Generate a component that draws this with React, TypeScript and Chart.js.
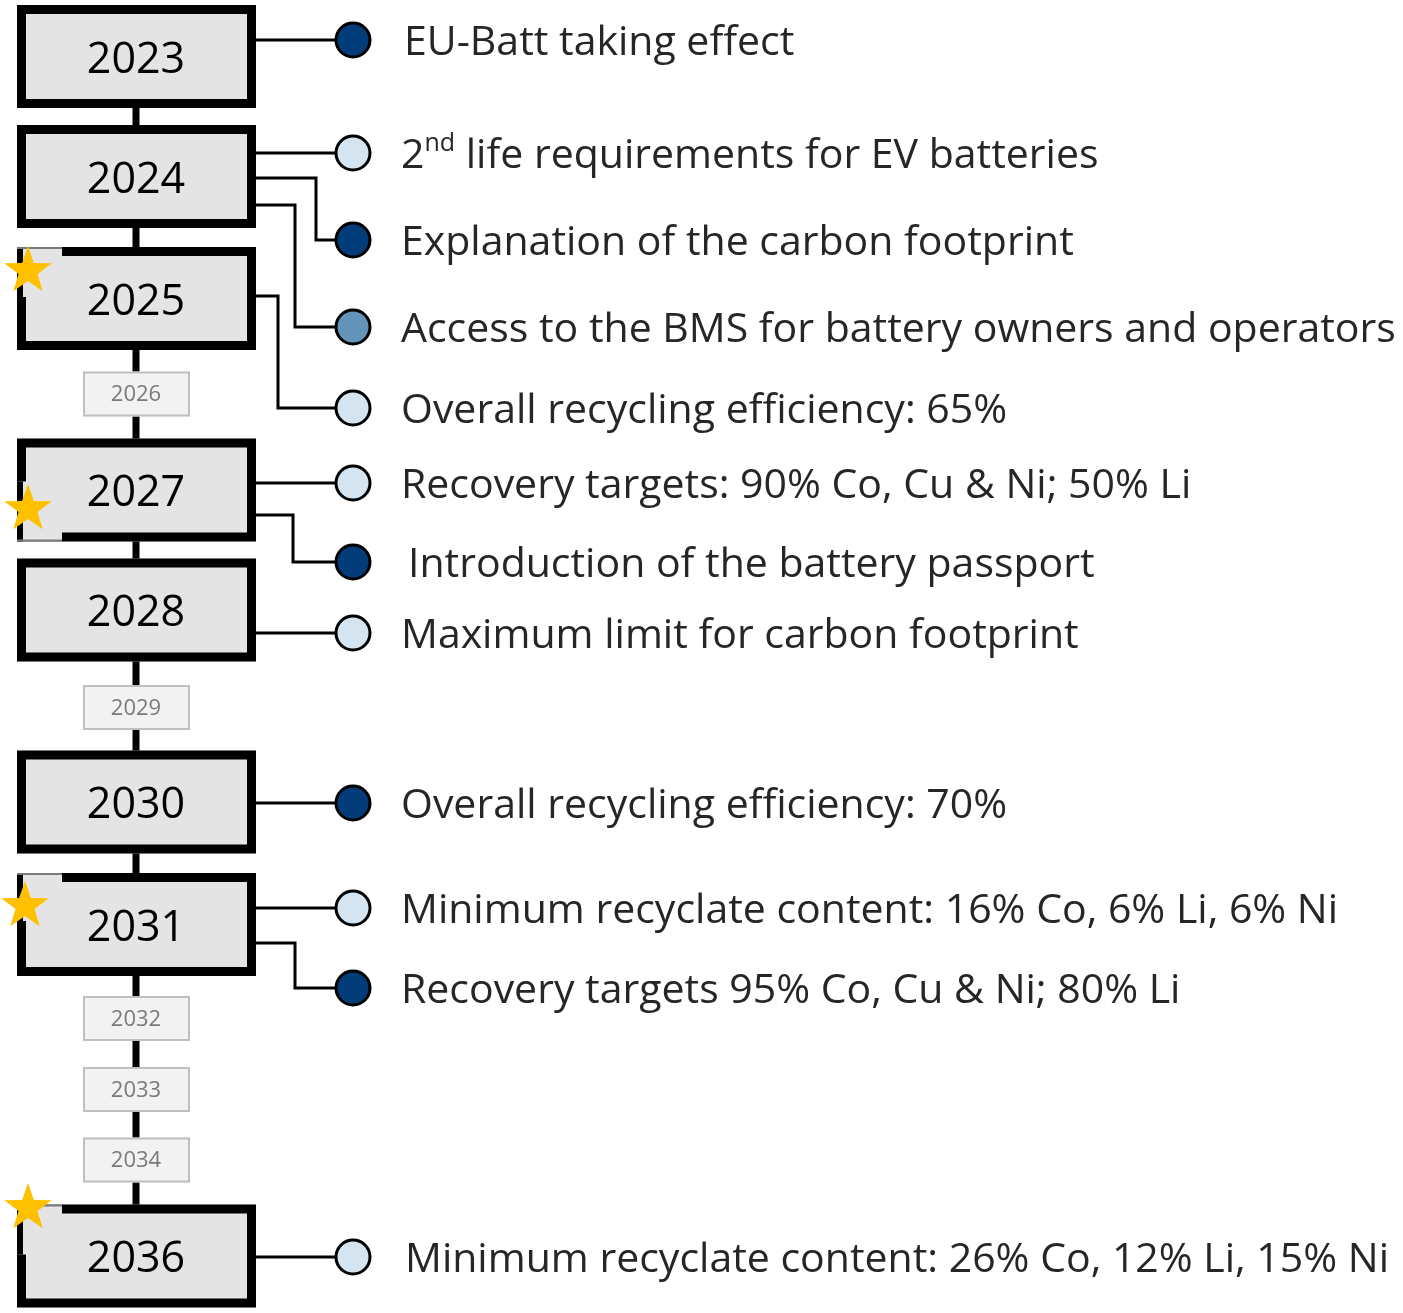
import { useEffect, useRef } from 'react';
import { Chart, registerables } from 'chart.js';

Chart.register(...registerables);

const W = 1403;
const H = 1313;

// ---- data -------------------------------------------------------------
const years = ['2023', '2024', '2025', '2026', '2027', '2028', '2029', '2030', '2031', '2032', '2033', '2034', '2036'];
const yearMajor = [true, true, true, false, true, true, false, true, true, false, false, false, true];
const yearRows = [56.5, 176.5, 298.5, 394, 490, 610, 707.5, 802, 924.5, 1018.5, 1089.5, 1160, 1256];
const starredYears = ['2025', '2027', '2031', '2036'];

const eventLabels = [
  'EU-Batt taking effect',
  '2nd life requirements for EV batteries',
  'Explanation of the carbon footprint',
  'Access to the BMS for battery owners and operators',
  'Overall recycling efficiency: 65%',
  'Recovery targets: 90% Co, Cu & Ni; 50% Li',
  'Introduction of the battery passport',
  'Maximum limit for carbon footprint',
  'Overall recycling efficiency: 70%',
  'Minimum recyclate content: 16% Co, 6% Li, 6% Ni',
  'Recovery targets 95% Co, Cu & Ni; 80% Li',
  'Minimum recyclate content: 26% Co, 12% Li, 15% Ni',
];
const eventYears = ['2023', '2024', '2024', '2024', '2025', '2027', '2027', '2028', '2030', '2031', '2031', '2036'];
const eventRows = [40, 153, 240, 327, 408, 483, 562, 633, 803, 908, 988, 1257];
// 1 = light, 2 = medium, 3 = dark
const eventLevels = [3, 1, 3, 2, 1, 1, 3, 1, 3, 1, 3, 1];

// ---- layout (diagram routing, styles) ------------------------------------
const BOX_L = 17, BOX_R = 256, BOX_H = 103, BOX_BORDER = 9;
const MINI_L = 83, MINI_R = 190, MINI_H = 45;
const SPINE_X = 136;
const DOT_X = 353, DOT_R = 17;
const TEXT_X = 401;
const branchStart = [40, 153, 178, 205, 296, 483, 515, 633, 803, 908, 943, 1257];
const branchElbow: (number | null)[] = [null, null, 316, 295, 278, null, 293, null, null, null, 295, null];
const textShift = [3, 0, 0, 0, 0, 0, 7, 0, 0, 0, 0, 4];
const starPos: Record<string, [number, number]> = {
  '2025': [28, 271], '2027': [28, 509], '2031': [25, 906], '2036': [28, 1208],
};
// corner of the box that the star badge sits on: 'top' or 'bottom', and patch height
const starCorner: Record<string, ['top' | 'bottom', number]> = {
  '2025': ['top', 50], '2027': ['bottom', 60], '2031': ['top', 48], '2036': ['top', 50],
};
const PATCH_W = 45;
const levelColors = ['', '#d4e4f1', '#6594ba', '#023d7a'];
const FONT = '"Open Sans", "Noto Sans", sans-serif';
const LABEL_SIZE = 41;

const timelinePlugin = {
  id: 'timelineDiagram',
  beforeDatasetsDraw(chart: any) {
    const { ctx, scales } = chart;
    const px = (v: number) => scales.x.getPixelForValue(v);
    const py = (v: number) => scales.y.getPixelForValue(v);
    ctx.save();
    // spine
    ctx.strokeStyle = '#000';
    ctx.lineWidth = 7;
    ctx.beginPath();
    ctx.moveTo(px(SPINE_X), py(yearRows[0]));
    ctx.lineTo(px(SPINE_X), py(yearRows[yearRows.length - 1]));
    ctx.stroke();
    // connectors
    ctx.lineWidth = 3;
    ctx.lineJoin = 'miter';
    eventLabels.forEach((_, i) => {
      ctx.beginPath();
      ctx.moveTo(px(BOX_R - 2), py(branchStart[i]));
      const ex = branchElbow[i];
      if (ex !== null) {
        ctx.lineTo(px(ex), py(branchStart[i]));
        ctx.lineTo(px(ex), py(eventRows[i]));
      }
      ctx.lineTo(px(DOT_X), py(eventRows[i]));
      ctx.stroke();
    });
    // year boxes
    years.forEach((yr, i) => {
      const cy = yearRows[i];
      if (yearMajor[i]) {
        const t = py(cy - BOX_H / 2), b = py(cy + BOX_H / 2);
        const l = px(BOX_L), r = px(BOX_R);
        ctx.fillStyle = '#e4e4e4';
        ctx.fillRect(l, t, r - l, b - t);
        ctx.strokeStyle = '#000';
        ctx.lineWidth = BOX_BORDER;
        ctx.strokeRect(l + BOX_BORDER / 2, t + BOX_BORDER / 2, r - l - BOX_BORDER, b - t - BOX_BORDER);
        // star badge patch on the corner
        const corner = starCorner[yr];
        if (corner) {
          const [side, ph] = corner;
          const pt = side === 'top' ? t : b - ph;
          ctx.fillStyle = '#e4e4e4';
          ctx.fillRect(l, pt, PATCH_W, ph);
          ctx.fillStyle = '#000';
          ctx.fillRect(l, pt, 6, ph);
          ctx.fillStyle = '#7a7a7a';
          ctx.fillRect(l, side === 'top' ? t : b - 2, PATCH_W, 2);
        }
        ctx.fillStyle = '#000';
        ctx.font = `43px ${FONT}`;
        ctx.textAlign = 'center';
        ctx.textBaseline = 'middle';
        ctx.fillText(yr, px(SPINE_X), py(cy + 4));
      } else {
        const t = py(cy - MINI_H / 2), b = py(cy + MINI_H / 2);
        const l = px(MINI_L), r = px(MINI_R);
        ctx.fillStyle = '#f2f2f2';
        ctx.fillRect(l, t, r - l, b - t);
        ctx.strokeStyle = '#bfbfbf';
        ctx.lineWidth = 2;
        ctx.strokeRect(l + 1, t + 1, r - l - 2, b - t - 2);
        ctx.fillStyle = '#7a7a7a';
        ctx.font = `22px ${FONT}`;
        ctx.textAlign = 'center';
        ctx.textBaseline = 'middle';
        ctx.fillText(yr, px(SPINE_X), py(cy + 1));
      }
    });
    ctx.restore();
  },
  afterDatasetsDraw(chart: any) {
    const { ctx, scales } = chart;
    const px = (v: number) => scales.x.getPixelForValue(v);
    const py = (v: number) => scales.y.getPixelForValue(v);
    ctx.save();
    // labels
    ctx.fillStyle = '#262626';
    ctx.textBaseline = 'middle';
    ctx.textAlign = 'left';
    eventLabels.forEach((label, i) => {
      let x = px(TEXT_X + textShift[i]);
      const y = py(eventRows[i] + 3);
      const sup = label.match(/^(\d)(st|nd|rd|th)(.*)$/);
      if (sup) {
        ctx.font = `${LABEL_SIZE}px ${FONT}`;
        ctx.fillText(sup[1], x, y);
        x += ctx.measureText(sup[1]).width;
        ctx.font = `${Math.round(LABEL_SIZE * 0.62)}px ${FONT}`;
        ctx.fillText(sup[2], x, y - LABEL_SIZE * 0.3);
        x += ctx.measureText(sup[2]).width;
        ctx.font = `${LABEL_SIZE}px ${FONT}`;
        ctx.fillText(sup[3], x, y);
      } else {
        ctx.font = `${LABEL_SIZE}px ${FONT}`;
        ctx.fillText(label, x, y);
      }
    });
    // stars
    ctx.fillStyle = '#ffc000';
    starredYears.forEach((yr) => {
      const [sx, sy] = starPos[yr];
      const cx = px(sx), cy = py(sy);
      const R = 25, r = 10;
      ctx.beginPath();
      for (let k = 0; k < 10; k++) {
        const ang = -Math.PI / 2 + (k * Math.PI) / 5;
        const rad = k % 2 === 0 ? R : r;
        const xx = cx + rad * Math.cos(ang), yy = cy + rad * Math.sin(ang);
        if (k === 0) ctx.moveTo(xx, yy); else ctx.lineTo(xx, yy);
      }
      ctx.closePath();
      ctx.fill();
    });
    ctx.restore();
  },
};

export default function App() {
  const canvasRef = useRef<HTMLCanvasElement | null>(null);
  useEffect(() => {
    if (!canvasRef.current) return;
    const chart = new Chart(canvasRef.current, {
      type: 'scatter',
      data: {
        datasets: [
          {
            data: eventRows.map((r) => ({ x: DOT_X, y: r })),
            pointRadius: DOT_R,
            pointHoverRadius: DOT_R,
            pointBackgroundColor: eventLevels.map((l) => levelColors[l]),
            pointBorderColor: '#000',
            pointBorderWidth: 3,
          },
        ],
      },
      options: {
        animation: false,
        responsive: true,
        maintainAspectRatio: false,
        layout: { padding: 0, autoPadding: false },
        events: [],
        plugins: { legend: { display: false }, tooltip: { enabled: false } },
        scales: {
          x: { type: 'linear', min: 0, max: W, display: false },
          y: { type: 'linear', min: 0, max: H, reverse: true, display: false },
        },
      },
      plugins: [timelinePlugin],
    });
    return () => chart.destroy();
  }, []);
  return (
    <div style={{ position: 'absolute', left: 0, top: 0, width: W, height: H, background: '#fff' }}>
      <canvas ref={canvasRef} />
    </div>
  );
}
